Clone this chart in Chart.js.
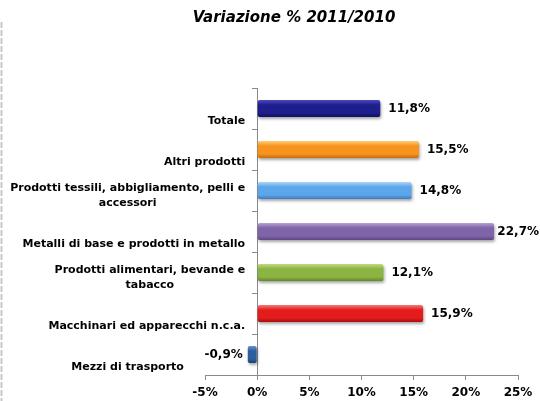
<!DOCTYPE html>
<html>
<head>
<meta charset="utf-8">
<script src="https://cdn.jsdelivr.net/npm/chart.js@4.4.0/dist/chart.umd.min.js"></script>
<style>
    html, body { margin: 0; padding: 0; background: #fff; }
</style>
</head>
<body>
<canvas id="myChart" width="540" height="401"></canvas>
<script>
// data
var categories = [
    ['Totale'],
    ['Altri prodotti'],
    ['Prodotti tessili, abbigliamento, pelli e', 'accessori'],
    ['Metalli di base e prodotti in metallo'],
    ['Prodotti alimentari, bevande e', 'tabacco'],
    ['Macchinari ed apparecchi n.c.a.'],
    ['Mezzi di trasporto']
];
var variazione = [11.8, 15.5, 14.8, 22.7, 12.1, 15.9, -0.9];
var xTicks = [-5, 0, 5, 10, 15, 20, 25];
var titleText = 'Variazione % 2011/2010';

// light / mid / dark for each bar
var barColors = [
    ['#5050c0', '#1e1e8e', '#0e0e58'],
    ['#ffd47c', '#f7931e', '#c4660c'],
    ['#b4dafa', '#5ca6ea', '#3a76bc'],
    ['#bca8d8', '#8064a8', '#58427e'],
    ['#c8de88', '#8cb442', '#5e8226'],
    ['#f88484', '#e41c1c', '#a40c0c'],
    ['#6c9cd6', '#2e5e9e', '#1a3a6a']
];

function barFill(context) {
    var chart = context.chart;
    var c = barColors[context.dataIndex];
    if (!chart.chartArea) return c[1];
    var y = chart.scales.y.getPixelForValue(context.dataIndex);
    var g = chart.ctx.createLinearGradient(0, y - 9, 0, y + 9);
    g.addColorStop(0, c[0]);
    g.addColorStop(0.3, c[1]);
    g.addColorStop(0.75, c[1]);
    g.addColorStop(1, c[2]);
    return g;
}

function fmt(v) {
    return v.toFixed(1).replace('.', ',') + '%';
}

var barShadow = {
    id: 'barShadow',
    beforeDatasetsDraw: function (chart) {
        var ctx = chart.ctx;
        ctx.save();
        ctx.shadowColor = 'rgba(0,0,0,0.35)';
        ctx.shadowBlur = 3;
        ctx.shadowOffsetX = 1;
        ctx.shadowOffsetY = 2;
    },
    afterDatasetsDraw: function (chart) {
        chart.ctx.restore();
    }
};

var textPlugin = {
    id: 'textPlugin',
    beforeDraw: function (chart) {
        // dashed page border on the left
        var ctx = chart.ctx;
        ctx.save();
        ctx.strokeStyle = '#c8c8c8';
        ctx.lineWidth = 2;
        ctx.setLineDash([6, 2]);
        ctx.beginPath();
        ctx.moveTo(1.5, 22);
        ctx.lineTo(1.5, 401);
        ctx.stroke();
        ctx.restore();
    },
    afterDraw: function (chart) {
        var ctx = chart.ctx;
        var xs = chart.scales.x, ys = chart.scales.y;
        ctx.save();
        ctx.fillStyle = '#000';
        ctx.textBaseline = 'middle';

        // title
        ctx.font = 'italic bold 15px "DejaVu Sans"';
        ctx.textAlign = 'center';
        ctx.fillText(titleText, 294, 18);

        // category labels
        var right = xs.getPixelForValue(0) - 12;
        var left = 10;
        ctx.font = 'bold 11px "DejaVu Sans"';
        categories.forEach(function (lines, i) {
            var yc = ys.getPixelForValue(i) + 13;
            var widest = 0;
            lines.forEach(function (l) { widest = Math.max(widest, ctx.measureText(l).width); });
            var cx = variazione[i] < 0 ? (left + right) / 2 : right - widest / 2;
            ctx.textAlign = 'center';
            lines.forEach(function (l, k) {
                ctx.fillText(l, cx, yc - (lines.length - 1 - k) * 15);
            });
        });

        // value labels
        ctx.font = 'bold 12px "DejaVu Sans"';
        variazione.forEach(function (v, i) {
            var xe = xs.getPixelForValue(v);
            var y = ys.getPixelForValue(i);
            var txt = fmt(v);
            if (v >= 0) {
                ctx.textAlign = 'left';
                var w = ctx.measureText(txt).width;
                ctx.fillText(txt, Math.min(xe + 8, chart.width - w - 1), y);
            } else {
                ctx.textAlign = 'right';
                ctx.fillText(txt, xe - 5, y);
            }
        });
        ctx.restore();
    }
};

var ctx = document.getElementById('myChart').getContext('2d');
var myChart = new Chart(ctx, {
    type: 'bar',
    data: {
        labels: categories,
        datasets: [{
            data: variazione,
            backgroundColor: barFill,
            borderWidth: 0,
            borderRadius: 2,
            borderSkipped: false,
            barPercentage: 0.42,
            categoryPercentage: 1
        }]
    },
    options: {
        indexAxis: 'y',
        responsive: false,
        animation: false,
        devicePixelRatio: 1,
        layout: {
            padding: { top: 88, left: 205, right: 22, bottom: 0 }
        },
        plugins: {
            legend: { display: false },
            tooltip: { enabled: false },
            title: { display: false }
        },
        scales: {
            x: {
                min: -5,
                max: 25,
                afterBuildTicks: function (scale) {
                    scale.ticks = xTicks.map(function (v) { return { value: v }; });
                },
                afterFit: function (scale) {
                    scale.height = 26;
                },
                grid: {
                    drawOnChartArea: false,
                    drawTicks: true,
                    tickLength: 5,
                    color: '#8a8a8a'
                },
                border: { color: '#8a8a8a' },
                ticks: {
                    padding: 6,
                    color: '#000',
                    font: { family: '"DejaVu Sans"', size: 12, weight: 'bold' },
                    callback: function (v) { return v + '%'; }
                }
            },
            y: {
                position: { x: 0 },
                grid: {
                    offset: true,
                    drawOnChartArea: false,
                    drawTicks: true,
                    tickLength: 5,
                    color: '#8a8a8a'
                },
                border: { color: '#8a8a8a' },
                ticks: { display: false }
            }
        }
    },
    plugins: [barShadow, textPlugin]
});
</script>
</body>
</html>
